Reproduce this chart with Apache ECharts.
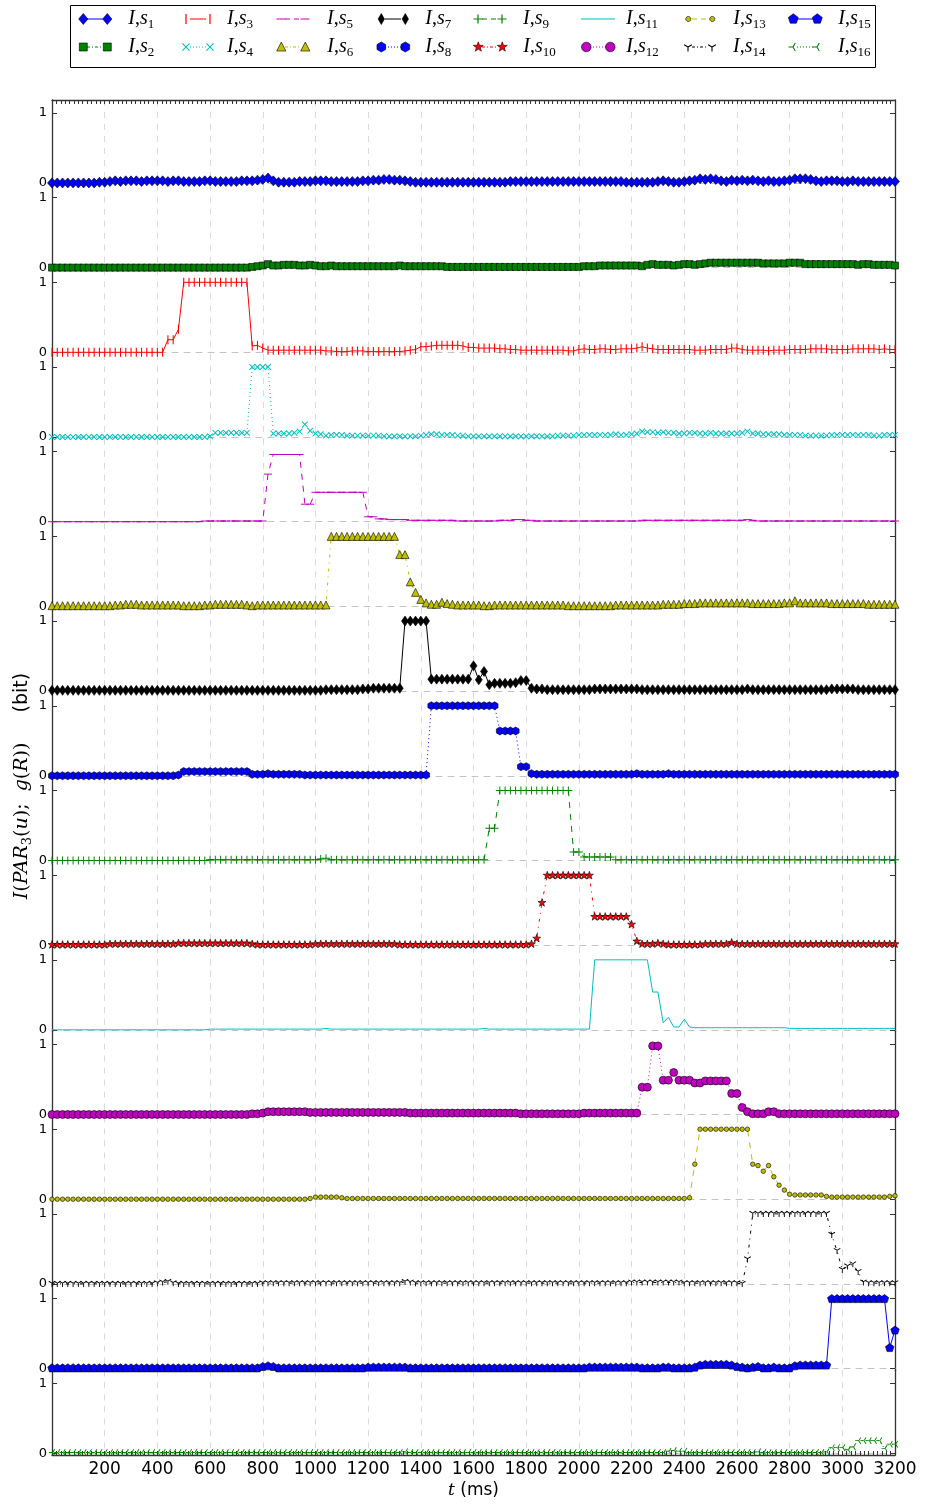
<!DOCTYPE html>
<html><head><meta charset="utf-8">
<script src="https://cdn.jsdelivr.net/npm/echarts@6/dist/echarts.min.js"></script>
<style>html,body{margin:0;padding:0;background:#fff}#c{width:926px;height:1505px}</style>
</head><body><div id="c"></div>
<script>
// sampling times (ms)
const times = []; for (let i = 0; i <= 160; i++) times.push(i * 20);
const xTickLabels = [200,400,600,800,1000,1200,1400,1600,1800,2000,2200,2400,2600,2800,3000,3200];
const yTickValues = [0, 1];
const seriesNames = ['I,s1','I,s2','I,s3','I,s4','I,s5','I,s6','I,s7','I,s8','I,s9','I,s10','I,s11','I,s12','I,s13','I,s14','I,s15','I,s16'];

const s1 = [
0,0,0,0,0,0,0,0,0,0.01,
0.01,0.02,0.03,0.02,0.03,0.03,0.03,0.02,0.03,0.03,
0.03,0.03,0.02,0.03,0.03,0.02,0.02,0.02,0.02,0.03,
0.03,0.02,0.02,0.02,0.02,0.02,0.03,0.03,0.03,0.04,
0.05,0.07,0.03,0.01,0.01,0.01,0.01,0.02,0.02,0.02,
0.03,0.03,0.03,0.02,0.02,0.02,0.02,0.02,0.02,0.03,
0.03,0.04,0.04,0.05,0.05,0.04,0.04,0.03,0.02,0.01,
0.01,0.01,0.01,0.01,0.01,0.01,0.01,0.01,0.01,0.01,
0.01,0.01,0.01,0.01,0.01,0.01,0.01,0.02,0.02,0.02,
0.02,0.02,0.02,0.02,0.02,0.02,0.02,0.02,0.02,0.02,
0.02,0.02,0.02,0.02,0.02,0.02,0.02,0.02,0.02,0.01,
0.01,0.01,0.01,0.01,0.01,0.02,0.03,0.02,0.01,0.01,
0.02,0.03,0.04,0.06,0.05,0.06,0.05,0.03,0.02,0.04,
0.03,0.04,0.03,0.04,0.03,0.02,0.03,0.02,0.02,0.03,
0.04,0.06,0.06,0.06,0.05,0.03,0.02,0.03,0.03,0.03,
0.02,0.02,0.03,0.02,0.02,0.02,0.02,0.02,0.02,0.02,0.02];
const s2 = [
0,0,0,0,0,0,0,0,0,0,
0,0,0,0,0,0,0,0,0,0,
0,0,0,0,0,0,0,0,0,0,
0,0,0,0,0,0,0,0,0.01,0.02,
0.03,0.05,0.03,0.03,0.04,0.04,0.04,0.03,0.03,0.04,
0.03,0.02,0.02,0.03,0.02,0.02,0.02,0.02,0.02,0.02,
0.02,0.02,0.02,0.02,0.02,0.02,0.03,0.02,0.02,0.02,
0.02,0.02,0.02,0.02,0.02,0.01,0.01,0.01,0.01,0.01,
0.01,0.01,0.01,0.01,0.01,0.01,0.01,0.01,0.01,0.01,
0.01,0.01,0.01,0.01,0.01,0.01,0.01,0.01,0.01,0.01,
0.01,0.02,0.02,0.02,0.03,0.03,0.03,0.03,0.03,0.03,
0.03,0.03,0.02,0.04,0.05,0.04,0.04,0.04,0.03,0.04,
0.05,0.05,0.04,0.05,0.06,0.07,0.07,0.07,0.07,0.07,
0.07,0.07,0.07,0.07,0.07,0.06,0.06,0.06,0.06,0.06,
0.07,0.07,0.07,0.05,0.05,0.05,0.05,0.05,0.05,0.05,
0.05,0.05,0.05,0.04,0.05,0.05,0.04,0.04,0.04,0.04,0.03];
const s3 = [
0,0,0,0,0,0,0,0,0,0,
0,0,0,0,0,0,0,0,0,0,
0,0,0.18,0.18,0.33,1,1,1,1,1,
1,1,1,1,1,1,1,1,0.09,0.1,
0.06,0.03,0.03,0.03,0.03,0.03,0.03,0.03,0.03,0.03,
0.03,0.03,0.02,0.02,0.01,0.01,0.01,0.02,0.02,0.02,
0.01,0.01,0.01,0.01,0.01,0.01,0.01,0.02,0.03,0.04,
0.08,0.08,0.09,0.1,0.1,0.1,0.1,0.1,0.09,0.07,
0.07,0.06,0.06,0.06,0.06,0.05,0.05,0.04,0.04,0.03,
0.03,0.03,0.03,0.03,0.03,0.03,0.03,0.03,0.02,0.02,
0.04,0.05,0.04,0.04,0.05,0.05,0.04,0.04,0.05,0.05,
0.05,0.06,0.08,0.06,0.05,0.04,0.04,0.04,0.04,0.04,
0.04,0.04,0.03,0.03,0.03,0.04,0.04,0.04,0.04,0.06,
0.06,0.04,0.03,0.03,0.03,0.03,0.02,0.03,0.03,0.03,
0.04,0.04,0.04,0.04,0.05,0.05,0.05,0.05,0.04,0.04,
0.04,0.04,0.05,0.05,0.05,0.05,0.05,0.04,0.05,0.04,0.04];
const s4 = [
0,0,0,0,0,0,0,0,0,0,
0,0,0,0,0,0,0,0,0,0,
0,0,0,0,0,0,0,0,0,0,
0.01,0.06,0.06,0.06,0.06,0.06,0.06,0.06,1,1,
1,1,0.05,0.05,0.05,0.05,0.06,0.08,0.18,0.09,
0.05,0.04,0.02,0.03,0.03,0.03,0.02,0.02,0.02,0.02,
0.02,0.02,0.02,0.01,0.01,0.01,0.01,0.01,0.01,0.01,
0.02,0.03,0.04,0.04,0.03,0.03,0.03,0.02,0.02,0.01,
0.01,0.01,0.01,0.01,0.01,0.01,0.01,0.01,0.01,0.01,
0.01,0.01,0.01,0.01,0.01,0.01,0.02,0.02,0.02,0.02,
0.03,0.03,0.03,0.03,0.03,0.03,0.03,0.04,0.03,0.03,
0.04,0.05,0.08,0.07,0.07,0.06,0.07,0.06,0.06,0.05,
0.05,0.06,0.06,0.05,0.05,0.06,0.05,0.05,0.05,0.05,
0.05,0.06,0.08,0.05,0.05,0.04,0.04,0.04,0.04,0.03,
0.03,0.03,0.03,0.02,0.02,0.02,0.02,0.02,0.03,0.03,
0.03,0.03,0.03,0.03,0.03,0.03,0.02,0.02,0.03,0.03,0.03];
const s5 = [
0,0,0,0,0,0,0,0,0,0,
0,0,0,0,0,0,0,0,0,0,
0,0,0,0,0,0,0,0,0,0.01,
0.01,0.01,0.01,0.01,0.01,0.01,0.01,0.01,0.01,0.01,
0.01,0.68,0.96,0.96,0.96,0.96,0.96,0.96,0.25,0.25,
0.42,0.42,0.42,0.42,0.42,0.42,0.42,0.42,0.42,0.42,
0.07,0.07,0.04,0.04,0.03,0.03,0.03,0.03,0.02,0.02,
0.02,0.02,0.02,0.02,0.02,0.02,0.02,0.01,0.01,0.01,
0.01,0.01,0.01,0.01,0.01,0.02,0.02,0.02,0.03,0.03,
0.02,0.02,0.01,0.01,0.01,0.01,0.01,0.01,0.01,0.01,
0.01,0.01,0.01,0.01,0.01,0.01,0.01,0.01,0.01,0.01,
0.01,0.01,0.02,0.02,0.02,0.02,0.02,0.02,0.02,0.02,
0.02,0.02,0.02,0.02,0.02,0.02,0.02,0.02,0.02,0.02,
0.02,0.02,0.03,0.02,0.01,0.01,0.01,0.01,0.01,0.01,
0.01,0.01,0.01,0.01,0.01,0.01,0.01,0.01,0.01,0.01,
0.01,0.01,0.01,0.01,0.01,0.01,0.01,0.01,0.01,0.01,0.01];
const s6 = [
0.01,0.01,0.01,0.01,0.01,0.01,0.01,0.01,0.01,0.01,
0.01,0.01,0.02,0.02,0.03,0.03,0.03,0.02,0.02,0.02,
0.02,0.02,0.02,0.02,0.02,0.01,0.01,0.01,0.01,0.02,
0.02,0.03,0.03,0.03,0.03,0.03,0.03,0.02,0.01,0.02,
0.02,0.02,0.02,0.02,0.02,0.02,0.02,0.02,0.02,0.02,
0.02,0.02,0.02,1,1,1,1,1,1,1,
1,1,1,1,1,1,0.74,0.74,0.35,0.2,
0.1,0.05,0.03,0.03,0.06,0.04,0.03,0.02,0.02,0.02,
0.02,0.02,0.01,0.01,0.02,0.02,0.02,0.02,0.02,0.02,
0.02,0.02,0.02,0.02,0.02,0.02,0.02,0.02,0.01,0.01,
0.01,0.01,0.01,0.01,0.01,0.01,0.01,0.02,0.02,0.02,
0.02,0.02,0.02,0.02,0.02,0.02,0.03,0.03,0.03,0.03,
0.04,0.04,0.04,0.05,0.05,0.05,0.05,0.05,0.05,0.05,
0.05,0.05,0.05,0.04,0.04,0.04,0.04,0.04,0.04,0.05,
0.05,0.08,0.05,0.05,0.05,0.05,0.05,0.05,0.04,0.04,
0.04,0.04,0.04,0.04,0.04,0.03,0.03,0.03,0.03,0.03,0.03];
const s7 = [
0.01,0.01,0.01,0.01,0.01,0.01,0.01,0.01,0.01,0.01,
0.01,0.01,0.01,0.01,0.01,0.01,0.01,0.01,0.01,0.01,
0.01,0.01,0.01,0.01,0.01,0.01,0.01,0.01,0.01,0.01,
0.01,0.01,0.01,0.01,0.01,0.01,0.01,0.01,0.01,0.01,
0.01,0.01,0.01,0.01,0.01,0.01,0.01,0.01,0.01,0.01,
0.01,0.01,0.02,0.02,0.02,0.02,0.02,0.02,0.02,0.03,
0.03,0.04,0.04,0.04,0.04,0.04,0.04,1,1,1,
1,1,0.17,0.17,0.17,0.17,0.17,0.17,0.17,0.17,
0.36,0.16,0.28,0.09,0.11,0.11,0.11,0.11,0.12,0.15,
0.15,0.04,0.03,0.03,0.02,0.02,0.02,0.02,0.02,0.02,
0.02,0.02,0.02,0.03,0.03,0.03,0.03,0.03,0.03,0.03,
0.03,0.03,0.02,0.02,0.02,0.02,0.02,0.02,0.02,0.02,
0.02,0.02,0.02,0.02,0.02,0.02,0.02,0.02,0.02,0.02,
0.02,0.02,0.03,0.02,0.02,0.02,0.02,0.02,0.02,0.02,
0.02,0.02,0.02,0.02,0.02,0.02,0.02,0.02,0.03,0.03,
0.03,0.03,0.03,0.02,0.02,0.02,0.02,0.02,0.02,0.02,0.02];
const s8 = [
0,0,0,0,0,0,0,0,0,0,
0,0,0,0,0,0,0,0,0,0,
0,0,0,0,0.01,0.06,0.06,0.06,0.06,0.06,
0.06,0.06,0.06,0.06,0.06,0.06,0.06,0.06,0.02,0.02,
0.02,0.03,0.02,0.02,0.02,0.02,0.02,0.02,0.01,0.01,
0.01,0.01,0.01,0.01,0.01,0.01,0.01,0.01,0.01,0.01,
0.01,0.01,0.01,0.01,0.01,0.01,0.01,0.01,0.01,0.01,
0.01,0.01,1,1,1,1,1,1,1,1,
1,1,1,1,1,0.64,0.64,0.64,0.64,0.13,
0.13,0.03,0.02,0.02,0.02,0.02,0.02,0.02,0.02,0.02,
0.02,0.02,0.02,0.02,0.02,0.02,0.02,0.02,0.02,0.02,
0.02,0.03,0.02,0.02,0.02,0.02,0.02,0.03,0.02,0.02,
0.02,0.02,0.02,0.02,0.02,0.02,0.02,0.02,0.02,0.02,
0.02,0.02,0.02,0.02,0.02,0.02,0.02,0.02,0.02,0.02,
0.02,0.02,0.02,0.02,0.02,0.02,0.02,0.02,0.02,0.02,
0.02,0.02,0.02,0.02,0.02,0.02,0.02,0.02,0.02,0.02,0.02];
const s9 = [
0,0,0,0,0,0,0,0,0,0,
0,0,0,0,0,0,0,0,0,0,
0,0,0,0,0,0,0,0,0,0,
0.01,0.01,0.01,0.01,0.01,0.01,0.01,0.01,0.01,0.01,
0.01,0.01,0.01,0.01,0.01,0.01,0.01,0.01,0.01,0.01,
0.01,0.02,0.03,0.01,0.01,0.01,0.01,0.01,0.01,0.01,
0.01,0.01,0.01,0.01,0.01,0.01,0.01,0.01,0.01,0.01,
0.01,0.01,0.01,0.01,0.01,0.01,0.01,0.01,0.01,0.01,
0.01,0.01,0.01,0.46,0.46,1,1,1,1,1,
1,1,1,1,1,1,1,1,1,0.12,
0.12,0.05,0.05,0.05,0.05,0.05,0.05,0.01,0.01,0.01,
0.01,0.01,0.01,0.01,0.01,0.01,0.01,0.01,0.01,0.01,
0.01,0.01,0.01,0.01,0.01,0.01,0.01,0.01,0.01,0.01,
0.01,0.01,0.01,0.01,0.01,0.01,0.01,0.01,0.01,0.01,
0.01,0.01,0.01,0.01,0.01,0.01,0.01,0.01,0.01,0.01,
0.01,0.01,0.01,0.01,0.01,0.01,0.01,0.01,0.01,0.01,0.01];
const s10 = [
0.01,0.01,0.01,0.01,0.01,0.01,0.01,0.01,0.01,0.01,
0.01,0.02,0.02,0.02,0.02,0.02,0.02,0.02,0.02,0.02,
0.02,0.02,0.02,0.02,0.03,0.03,0.03,0.03,0.03,0.03,
0.03,0.03,0.03,0.03,0.03,0.03,0.03,0.03,0.02,0.01,
0.01,0.01,0.01,0.01,0.01,0.01,0.01,0.01,0.01,0.01,
0.02,0.02,0.02,0.02,0.02,0.02,0.02,0.02,0.02,0.02,
0.02,0.02,0.02,0.02,0.02,0.02,0.01,0.01,0.01,0.01,
0.01,0.01,0.01,0.01,0.01,0.01,0.01,0.01,0.01,0.01,
0.01,0.01,0.01,0.01,0.01,0.01,0.01,0.01,0.01,0.01,
0.01,0.02,0.1,0.61,1,1,1,1,1,1,
1,1,1,0.41,0.41,0.41,0.41,0.41,0.41,0.41,
0.3,0.06,0.02,0.02,0.02,0.03,0.02,0.01,0.01,0.01,
0.01,0.01,0.01,0.01,0.02,0.02,0.02,0.02,0.02,0.04,
0.02,0.02,0.02,0.02,0.02,0.02,0.02,0.02,0.02,0.02,
0.02,0.02,0.02,0.02,0.02,0.02,0.02,0.02,0.02,0.02,
0.02,0.02,0.02,0.02,0.02,0.02,0.02,0.02,0.02,0.02,0.02];
const s11 = [
0,0,0,0,0,0,0,0,0,0,
0,0,0,0,0,0,0,0,0,0,
0,0,0,0,0,0,0,0,0,0,
0.01,0.01,0.01,0.01,0.01,0.01,0.01,0.01,0.01,0.01,
0.01,0.01,0.01,0.01,0.01,0.01,0.01,0.01,0.01,0.01,
0.01,0.01,0.02,0.01,0.01,0.01,0.01,0.01,0.01,0.01,
0.01,0.01,0.01,0.01,0.01,0.01,0.01,0.01,0.01,0.01,
0.01,0.01,0.01,0.01,0.01,0.01,0.01,0.01,0.01,0.01,
0.01,0.01,0.02,0.01,0.01,0.01,0.01,0.01,0.01,0.01,
0.01,0.01,0.01,0.01,0.01,0.01,0.01,0.01,0.01,0.01,
0.01,0.01,0.01,1,1,1,1,1,1,1,
1,1,1,1,0.54,0.54,0.1,0.18,0.04,0.04,
0.15,0.04,0.03,0.03,0.03,0.03,0.03,0.03,0.03,0.03,
0.03,0.03,0.03,0.03,0.03,0.03,0.03,0.03,0.03,0.03,
0.02,0.02,0.02,0.02,0.02,0.02,0.02,0.02,0.02,0.02,
0.02,0.02,0.02,0.02,0.02,0.02,0.02,0.02,0.02,0.02,0.02];
const s12 = [
0,0,0,0,0,0,0,0,0,0,
0,0,0,0,0,0,0,0,0,0,
0,0,0,0,0,0,0,0,0,0,
0,0,0,0,0,0,0,0,0.01,0.01,
0.02,0.04,0.04,0.04,0.04,0.04,0.04,0.04,0.04,0.03,
0.03,0.03,0.03,0.03,0.03,0.03,0.03,0.03,0.03,0.03,
0.03,0.03,0.03,0.03,0.03,0.03,0.03,0.03,0.02,0.02,
0.02,0.02,0.02,0.02,0.02,0.02,0.02,0.02,0.02,0.02,
0.02,0.02,0.02,0.02,0.02,0.02,0.02,0.02,0.02,0.01,
0.01,0.01,0.01,0.01,0.01,0.01,0.01,0.01,0.01,0.01,
0.01,0.02,0.02,0.02,0.02,0.02,0.02,0.02,0.02,0.02,
0.02,0.02,0.39,0.39,0.98,0.98,0.49,0.49,0.6,0.49,
0.49,0.49,0.45,0.45,0.48,0.48,0.48,0.48,0.48,0.3,
0.3,0.1,0.04,0.01,0.01,0.01,0.04,0.04,0.01,0.01,
0.01,0.01,0.01,0.01,0.01,0.01,0.01,0.01,0.01,0.01,
0.01,0.01,0.01,0.01,0.01,0.01,0.01,0.01,0.01,0.01,0.01];
const s13 = [
0,0,0,0,0,0,0,0,0,0,
0,0,0,0,0,0,0,0,0,0,
0,0,0,0,0,0,0,0,0,0,
0,0,0,0,0,0,0,0,0,0,
0,0,0,0,0,0,0,0,0,0.01,
0.03,0.03,0.03,0.03,0.03,0.02,0.01,0.01,0.01,0.01,
0.01,0.01,0.01,0.01,0.01,0.01,0.01,0.01,0.01,0.01,
0.01,0.01,0.01,0.01,0.01,0.01,0.01,0.01,0.01,0.01,
0.01,0.01,0.01,0.01,0.01,0.01,0.01,0.01,0.01,0.01,
0.01,0.01,0.01,0.01,0.01,0.01,0.01,0.01,0.01,0.01,
0.01,0.01,0.01,0.01,0.01,0.01,0.01,0.01,0.01,0.01,
0.01,0.01,0.01,0.01,0.01,0.01,0.01,0.01,0.01,0.01,
0.01,0.02,0.5,1,1,1,1,1,1,1,
1,1,1,0.5,0.48,0.4,0.48,0.32,0.2,0.13,
0.07,0.06,0.06,0.06,0.06,0.06,0.06,0.04,0.03,0.03,
0.03,0.03,0.03,0.03,0.03,0.03,0.03,0.03,0.03,0.04,0.05];
const s14 = [
0,0,0,0,0,0,0,0,0,0,
0,0,0,0,0,0,0,0,0,0,
0.01,0.02,0.03,0.01,0,0,0,0,0,0,
0,0,0,0,0,0,0,0,0,0,
0.01,0.01,0.01,0.01,0.01,0.01,0.01,0.01,0.01,0.01,
0.01,0.01,0.01,0.01,0.01,0.01,0.01,0.01,0.01,0.01,
0.01,0.01,0.01,0.01,0.01,0.01,0.01,0.03,0.02,0.01,
0.01,0.01,0.01,0.01,0.01,0.01,0.01,0.01,0.01,0.01,
0.01,0.01,0.01,0.01,0.01,0.01,0.01,0.01,0.01,0.01,
0.01,0.01,0.01,0.01,0.01,0.01,0.01,0.01,0.01,0.01,
0.01,0.01,0.01,0.01,0.01,0.01,0.01,0.01,0.01,0.01,
0.02,0.02,0.02,0.02,0.02,0.02,0.02,0.02,0.02,0.02,
0.01,0.01,0.01,0.01,0.01,0.01,0.01,0.01,0.01,0.01,
0.01,0,0.35,1,1,1,1,1,1,1,
1,1,1,1,1,1,1,1,0.7,0.47,
0.2,0.25,0.28,0.17,0.02,0.01,0.01,0.01,0.01,0.01,0.01];
const s15 = [
0.01,0.01,0.01,0.01,0.01,0.01,0.01,0.01,0.01,0.01,
0.01,0.01,0.01,0.01,0.01,0.01,0.01,0.01,0.01,0.01,
0.01,0.01,0.01,0.01,0.01,0.01,0.01,0.01,0.01,0.01,
0.01,0.01,0.01,0.01,0.01,0.01,0.01,0.01,0.01,0.01,
0.03,0.04,0.03,0.01,0.01,0.01,0.01,0.01,0.01,0.01,
0.01,0.01,0.01,0.01,0.01,0.01,0.01,0.01,0.01,0.01,
0.02,0.02,0.02,0.02,0.02,0.02,0.02,0.02,0.01,0.01,
0.01,0.01,0.01,0.01,0.01,0.01,0.01,0.01,0.01,0.01,
0.01,0.01,0.01,0.01,0.01,0.01,0.01,0.01,0.01,0.01,
0.01,0.01,0.01,0.01,0.01,0.01,0.01,0.01,0.01,0.01,
0.01,0.01,0.02,0.02,0.02,0.02,0.02,0.02,0.02,0.02,
0.02,0.02,0.01,0.01,0.01,0.01,0.02,0.02,0.01,0.01,
0.01,0.01,0.02,0.05,0.06,0.06,0.06,0.06,0.06,0.05,
0.03,0.02,0.01,0.02,0.03,0.01,0.01,0.02,0.01,0.01,
0.01,0.04,0.05,0.05,0.05,0.05,0.05,0.05,1,1,
1,1,1,1,1,1,1,1,1,0.3,0.55];
const s16 = [
0.01,0.01,0.01,0.01,0.01,0.01,0.01,0.01,0.01,0.01,
0.01,0.01,0.01,0.01,0.01,0.01,0.01,0.01,0.01,0.01,
0.01,0.01,0.01,0.01,0.01,0.01,0.01,0.01,0.01,0.01,
0.01,0.01,0.01,0.01,0.01,0.01,0.01,0.01,0.01,0.01,
0.01,0.01,0.01,0.01,0.01,0.01,0.01,0.01,0.01,0.01,
0.01,0.01,0.01,0.01,0.01,0.01,0.01,0.01,0.01,0.01,
0.01,0.01,0.01,0.01,0.01,0.01,0.01,0.02,0.01,0.01,
0.01,0.01,0.01,0.01,0.01,0.01,0.01,0.01,0.01,0.01,
0.01,0.01,0.01,0.01,0.01,0.01,0.01,0.01,0.01,0.01,
0.01,0.01,0.01,0.01,0.01,0.01,0.01,0.01,0.01,0.01,
0.01,0.01,0.01,0.01,0.01,0.01,0.01,0.01,0.01,0.01,
0.01,0.01,0.01,0.01,0.01,0.01,0.01,0.03,0.04,0.03,
0.03,0.01,0.01,0.01,0.01,0.01,0.01,0.01,0.01,0.01,
0.01,0.01,0.01,0.01,0.02,0.01,0.01,0.01,0.01,0.01,
0.01,0.01,0.01,0.01,0.01,0.01,0.01,0.02,0.08,0.08,
0.08,0.05,0.09,0.18,0.18,0.18,0.18,0.18,0.07,0.13,0.13];

const seriesValues = [s1,s2,s3,s4,s5,s6,s7,s8,s9,s10,s11,s12,s13,s14,s15,s16];
seriesValues.forEach((a, j) => { if (a.length !== times.length) throw new Error('length s' + (j+1) + ' = ' + a.length); });

// ---------- marker glyphs ----------
const P = {
  plus: 'path://M4.4,0H5.6V4.4H10V5.6H5.6V10H4.4V5.6H0V4.4H4.4Z',
  vbar: 'path://M4.4,0H5.6V10H4.4Z',
  hbar: 'path://M0,4.4H10V5.6H0Z',
  hex: 'path://M5,0L9.33,2.5L9.33,7.5L5,10L0.67,7.5L0.67,2.5Z',
  pent: 'path://M5,0L9.76,3.45L7.94,9.05L2.06,9.05L0.24,3.45Z',
  star: 'path://M5,0L6.18,3.38L9.76,3.45L6.9,5.62L7.94,9.05L5,7L2.06,9.05L3.1,5.62L0.24,3.45L3.82,3.38Z',
  tridown: 'path://M4.4,5H5.6V10H4.4Z M5.3,4.48L0.97,1.98L0.37,3.02L4.7,5.52Z M4.7,4.48L9.03,1.98L9.63,3.02L5.3,5.52Z',
  trileft: 'path://M0,4.4H5V5.6H0Z M5.52,5.3L8.02,0.97L6.98,0.37L4.48,4.7Z M5.52,4.7L8.02,9.03L6.98,9.63L4.48,5.3Z'
};
const DASH = [6, 6], DASHDOT = [3, 5, 1, 5], DOT = [1, 3];
const B = '#0000ff', G = '#008000', R = '#ff0000', C = '#00bfbf', M = '#bf00bf', Y = '#bfbf00', K = '#000000';
const styles = [
  {c:B, sym:'diamond', size:[9,10], line:'solid', edge:true, mk:'D', lp:[16]},
  {c:G, sym:'rect', size:7, line:DASHDOT, edge:true, mk:'s', lp:[3,2,1,2]},
  {c:R, sym:P.vbar, size:9, line:'solid', mk:'|', lp:[16]},
  {c:C, sym:P.plus, size:8, rot:45, line:DOT, mk:'x', lp:[1,2]},
  {c:M, sym:P.hbar, size:8, line:DASH, mk:'_', lp:[5,4]},
  {c:Y, sym:'triangle', size:8, line:DASHDOT, edge:true, mk:'^', lp:[3,2,1,2]},
  {c:K, sym:'diamond', size:[7,10], line:'solid', edge:true, mk:'d', lp:[16]},
  {c:B, sym:P.hex, size:8, line:DOT, edge:true, mk:'h', lp:[1,2]},
  {c:G, sym:P.plus, size:8, line:DASH, mk:'+', lp:[5,4]},
  {c:R, sym:P.star, size:8, line:DASHDOT, edge:true, mk:'*', lp:[3,2,1,2]},
  {c:C, sym:'none', size:4, line:'solid', mk:'none', lp:[34]},
  {c:M, sym:'circle', size:8, line:DOT, edge:true, mk:'o', lp:[1,2]},
  {c:Y, sym:'circle', size:4.5, line:DASH, edge:true, mk:'.', lp:[5,4]},
  {c:K, sym:P.tridown, size:7, line:DASHDOT, mk:'1', lp:[3,2,1,2]},
  {c:B, sym:P.pent, size:8.5, line:'solid', edge:true, mk:'p', lp:[16]},
  {c:G, sym:P.trileft, size:7, line:DOT, mk:'3', lp:[1,2]}
];

// legend glyphs (34 x 14): a line part and a marker part, drawn as two stacked legend icons
const IW = 34, IH = 14, CY = 7;
function f(n) { return (+n).toFixed(2); }
function poly(pts) { return 'M' + pts.map(p => f(p[0]) + ',' + f(p[1])).join('L') + 'Z'; }
function rectP(x0, y0, x1, y1) { return poly([[x0,y0],[x1,y0],[x1,y1],[x0,y1]]); }
function seg(x0, y0, x1, y1, w) {
  const dx = x1 - x0, dy = y1 - y0, L = Math.hypot(dx, dy), nx = -dy / L * w / 2, ny = dx / L * w / 2;
  return poly([[x0+nx,y0+ny],[x1+nx,y1+ny],[x1-nx,y1-ny],[x0-nx,y0-ny]]);
}
function ngon(cx, cy, r, n, a0) {
  const pts = []; for (let k = 0; k < n; k++) { const a = a0 + 2 * Math.PI * k / n; pts.push([cx + r * Math.cos(a), cy + r * Math.sin(a)]); }
  return poly(pts);
}
function starP(cx, cy, R1, R2) {
  const pts = []; for (let k = 0; k < 10; k++) { const a = -Math.PI / 2 + Math.PI * k / 5, r = k % 2 ? R2 : R1; pts.push([cx + r * Math.cos(a), cy + r * Math.sin(a)]); }
  return poly(pts);
}
function marker(mk, cx, cy) {
  switch (mk) {
    case 'D': return poly([[cx,cy-5.5],[cx+4.6,cy],[cx,cy+5.5],[cx-4.6,cy]]);
    case 'd': return poly([[cx,cy-5.5],[cx+3.2,cy],[cx,cy+5.5],[cx-3.2,cy]]);
    case 's': return rectP(cx-4, cy-4, cx+4, cy+4);
    case '|': return rectP(cx-0.6, cy-5, cx+0.6, cy+5);
    case '_': return rectP(cx-4.5, cy-0.6, cx+4.5, cy+0.6);
    case '+': return rectP(cx-4.5, cy-0.6, cx+4.5, cy+0.6) + rectP(cx-0.6, cy-4.5, cx+0.6, cy+4.5);
    case 'x': return seg(cx-3.6, cy-3.6, cx+3.6, cy+3.6, 1.1) + seg(cx-3.6, cy+3.6, cx+3.6, cy-3.6, 1.1);
    case '^': return poly([[cx,cy-5],[cx+4.6,cy+4],[cx-4.6,cy+4]]);
    case 'h': return ngon(cx, cy, 5, 6, -Math.PI / 2);
    case 'p': return ngon(cx, cy, 5.2, 5, -Math.PI / 2);
    case '*': return starP(cx, cy, 5.2, 2.1);
    case 'o': return ngon(cx, cy, 4.8, 20, 0);
    case '.': return ngon(cx, cy, 2.6, 12, 0);
    case '1': return seg(cx, cy, cx, cy+4.5, 1.1) + seg(cx, cy, cx-3.9, cy-2.25, 1.1) + seg(cx, cy, cx+3.9, cy-2.25, 1.1);
    case '3': return seg(cx, cy, cx-4.5, cy, 1.1) + seg(cx, cy, cx+2.25, cy-3.9, 1.1) + seg(cx, cy, cx+2.25, cy+3.9, 1.1);
    default: return '';
  }
}
const FRAME = rectP(0, 0, 0.01, 0.01) + rectP(IW - 0.01, IH - 0.01, IW, IH);
function lineIcon(st) {
  let d = FRAME;
  const x0 = st.mk === 'none' ? 0 : 9, x1 = st.mk === 'none' ? IW : IW - 9;
  let x = x0, k = 0;
  while (x < x1) {
    const len = st.lp[k % st.lp.length];
    if (k % 2 === 0) d += rectP(x, CY - 0.5, Math.min(x + len, x1), CY + 0.5);
    x += len; k++;
  }
  return 'path://' + d;
}
function markerIcon(st) { return 'path://' + FRAME + marker(st.mk, 5, CY) + marker(st.mk, IW - 5, CY); }

const Y_MIN = -0.025, Y_MAX = 1.185;
const TOP = 100, PLOT_H = 1355, NP = 16, H = PLOT_H / NP;
const AX = '#333333';
const grids = [], xAxes = [], yAxes = [], series = [];
for (let k = 0; k < NP; k++) {
  grids.push({left: 52, right: 31, top: TOP + k * H, height: H});
  xAxes.push({type:'value', gridIndex:k, min:0, max:3200, interval:200,
    axisLine:{show:true, onZero:true, lineStyle:{color:'#c4c4c4', width:1, type:DASH}},
    axisTick:{show:false}, axisLabel:{show:false},
    splitLine:{show:true, lineStyle:{color:'#dadada', width:1, type:DASH}}});
  yAxes.push({type:'value', gridIndex:k, position:'left', min:Y_MIN, max:Y_MAX,
    axisLine:{show:true, onZero:false, lineStyle:{color:AX, width:1.3}},
    axisTick:{show:true, inside:true, length:5, customValues:yTickValues, lineStyle:{color:AX}},
    axisLabel:{show:true, customValues:yTickValues, color:'#000', fontSize:13, fontFamily:'DejaVu Sans', margin:5},
    splitLine:{show:false}});
}
for (let k = 0; k < NP; k++) {
  yAxes.push({type:'value', gridIndex:k, position:'right', min:Y_MIN, max:Y_MAX,
    axisLine:{show:true, onZero:false, lineStyle:{color:AX, width:1.3}},
    axisTick:{show:true, inside:true, length:5, customValues:yTickValues, lineStyle:{color:AX}},
    axisLabel:{show:false}, splitLine:{show:false}});
}
// top frame of first panel
xAxes.push({type:'value', gridIndex:0, position:'top', min:0, max:3200, interval:200,
  axisLine:{show:true, onZero:false, lineStyle:{color:AX, width:1.3}},
  axisTick:{show:true, inside:true, length:4, lineStyle:{color:AX}},
  minorTick:{show:true, splitNumber:12, length:4, lineStyle:{color:AX}},
  axisLabel:{show:false}, splitLine:{show:false}});
// bottom frame + tick labels of last panel
xAxes.push({type:'value', gridIndex:NP-1, position:'bottom', min:0, max:3200, interval:200,
  axisLine:{show:true, onZero:false, lineStyle:{color:AX, width:1.3}},
  axisTick:{show:true, inside:true, length:4, lineStyle:{color:AX}},
  minorTick:{show:true, splitNumber:12, length:4, lineStyle:{color:AX}},
  axisLabel:{show:true, customValues:xTickLabels, formatter: v => String(v), color:'#000', fontSize:17, fontFamily:'DejaVu Sans', margin:6},
  splitLine:{show:false},
  name:'{it|t} (ms)', nameLocation:'middle', nameGap:27,
  nameTextStyle:{color:'#000', fontSize:17, fontFamily:'DejaVu Sans',
    rich:{it:{fontFamily:'DejaVu Serif', fontStyle:'italic', fontSize:17}}}});

seriesValues.forEach((vals, j) => {
  const st = styles[j];
  series.push({
    type:'line', name:seriesNames[j], xAxisIndex:j, yAxisIndex:j,
    data: times.map((t, i) => [t, vals[i]]),
    symbol: st.sym, symbolSize: st.size, symbolRotate: st.rot || 0, symbolKeepAspect: true,
    showSymbol: st.sym !== 'none',
    lineStyle:{color:st.c, width:1, type:st.line},
    itemStyle:{color:st.c, borderColor: st.edge ? '#000' : st.c, borderWidth: st.edge ? 0.6 : 0},
    emphasis:{disabled:true}, animation:false, silent:true
  });
});

// legend: per entry, a line-icon legend underneath and a marker-icon legend with the label on top
const legendCols = [[78,128],[181,227],[276,327],[376,425],[473,523],[581,626],[683,733],[788,838]];
const legendRows = [19, 47];
const legends = [];
seriesNames.forEach((nm, j) => {
  const c = legendCols[j >> 1], r = legendRows[j % 2], st = styles[j];
  const common = {left:c[0], top:r - 10, padding:0, itemWidth:IW, itemHeight:IH, itemGap:0, selectedMode:false,
    textStyle:{color:'#000', fontFamily:'Liberation Serif', fontSize:20,
      rich:{
        g:{width: c[1] - c[0] - IW - 5},
        i:{fontFamily:'Liberation Serif', fontStyle:'italic', fontSize:20},
        b:{fontFamily:'Liberation Serif', fontSize:13, padding:[12,0,0,0]}
      }},
    formatter: n => '{g| }{i|I},{i|s}{b|' + n.slice(3) + '}'};
  legends.push(Object.assign({}, common, {
    data:[{name:nm, icon:lineIcon(st)}], itemStyle:{borderWidth:0},
    textStyle: Object.assign({}, common.textStyle, {color:'rgba(0,0,0,0)'})}));
  legends.push(Object.assign({}, common, {
    data:[{name:nm, icon:markerIcon(st)}],
    itemStyle: st.edge ? {borderColor:'#000', borderWidth:0.6} : {borderWidth:0}}));
});

const chart = echarts.init(document.getElementById('c'), null, {renderer:'canvas'});
chart.setOption({
  animation:false,
  backgroundColor:'#ffffff',
  grid: grids, xAxis: xAxes, yAxis: yAxes, series: series, legend: legends,
  graphic: [
    {type:'rect', z:-1, shape:{x:70.5, y:5.5, width:805, height:62}, style:{fill:'none', stroke:'#000', lineWidth:1}},
    {type:'text', x:22, y:786, rotation:Math.PI/2,
      style:{text:'{i|I}{r|(}{i|PAR}{b|3}{r|(}{i|u}{r|);  }{i|g}{r|(}{i|R}{r|))}{s|     (bit)}',
        align:'center', verticalAlign:'middle', fill:'#000',
        font:'19px "DejaVu Serif"',
        rich:{
          i:{fontFamily:'DejaVu Serif', fontStyle:'italic', fontSize:19},
          r:{fontFamily:'DejaVu Serif', fontSize:19},
          b:{fontFamily:'DejaVu Serif', fontSize:13, padding:[11,0,0,0]},
          s:{fontFamily:'DejaVu Sans', fontSize:19}
        }}}
  ]
});
</script>
</body></html>
